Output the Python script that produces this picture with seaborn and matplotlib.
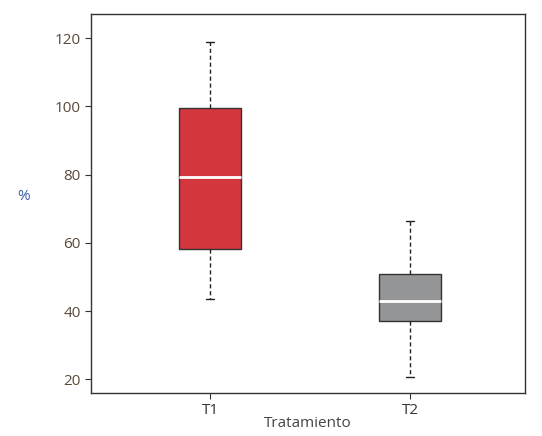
import matplotlib
matplotlib.use("Agg")
import matplotlib.pyplot as plt
import seaborn as sns
import pandas as pd
import numpy as np

groups = ["T1", "T2"]
t1_stats = [43.4, 58.3, 79.2, 99.4, 118.9]
t2_stats = [20.8, 37.2, 43.1, 51.0, 66.5]
colors = ["#ee1c25", "#939598"]

df = pd.DataFrame({"Tratamiento": ["T1"] * 5 + ["T2"] * 5,
                   "val": t1_stats + t2_stats})

sns.set_style("white")
plt.rcParams['font.family'] = ['Open Sans', 'DejaVu Sans']
fig = plt.figure(figsize=(5.42, 4.36), dpi=100)
ax = fig.add_axes([0.168, 0.0986, 0.801, 0.869])
sns.boxplot(data=df, x="Tratamiento", y="val", hue="Tratamiento", palette=colors,
            order=groups, width=0.31, whis=np.inf, legend=False, ax=ax,
            boxprops=dict(edgecolor="#333333", linewidth=1),
            medianprops=dict(color="white", linewidth=2),
            whiskerprops=dict(color="#222222", linestyle=(0, (3, 2)), linewidth=1),
            capprops=dict(color="#222222", linewidth=1), capwidths=0.04)
ax.set_xlim(-0.595, 1.575)
ax.set_ylim(16, 127)
ax.set_yticks([20, 40, 60, 80, 100, 120])
for s in ax.spines.values():
    s.set_color("#333333"); s.set_linewidth(1)
ax.tick_params(axis="both", colors="#333333", labelsize=11, length=4, direction="out", left=True, bottom=True)
for t in ax.get_yticklabels():
    t.set_color("#5a4a3a")
ax.set_xlabel("Tratamiento", fontsize=11, color="#444444", labelpad=-2)
ax.set_ylabel("%", fontsize=11, color="#3a5ca8", rotation=0, labelpad=22)
fig.savefig("out.png", dpi=100)
